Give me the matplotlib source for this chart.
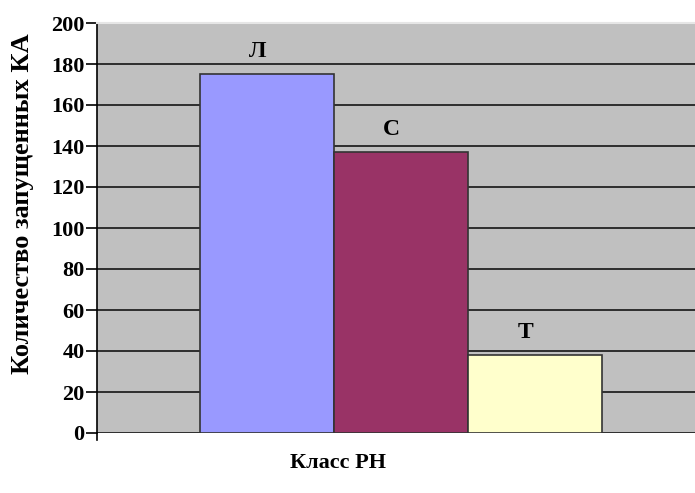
import matplotlib.pyplot as plt

classes = ['Л', 'С', 'Т']
launches = [175, 137, 38]
colors = ['#9999FF', '#993366', '#FFFFCC']
yticks = [0, 20, 40, 60, 80, 100, 120, 140, 160, 180, 200]

plt.rcParams['font.family'] = ['Liberation Serif', 'DejaVu Serif']
plt.rcParams['font.weight'] = 'bold'

fig = plt.figure(figsize=(6.95, 4.93), dpi=100)
ax = fig.add_axes([97 / 695, 60 / 493, 598 / 695, 410 / 493])
ax.set_facecolor('#C0C0C0')

x = range(len(classes))
ax.bar(x, launches, width=1.0, color=colors, edgecolor='#333333', linewidth=1.2, zorder=3)

# подписи над столбцами
for i, v in enumerate(launches):
    ax.text(i - 0.07, v + 6, classes[i], ha='center', va='bottom',
            fontsize=17, fontweight='bold', zorder=4)

ax.set_xlim(-1.269, 3.194)
ax.set_ylim(0, 200)
ax.set_yticks(yticks)
ax.set_xticks([])
ax.yaxis.grid(True, color='#222222', linewidth=1.3, zorder=0)
ax.set_axisbelow(True)
ax.tick_params(axis='y', direction='out', length=8, width=1.2, pad=1, labelsize=16)

for s in ['right', 'bottom']:
    ax.spines[s].set_visible(False)
ax.spines['top'].set_color('#e6e6e6')
ax.spines['top'].set_linewidth(1.5)
ax.spines['left'].set_linewidth(1.2)
ax.plot([0, 0], [-0.018, 0], transform=ax.transAxes, color='black', lw=1.2, clip_on=False)

fig.text(23 / 695, 1 - 204 / 493, 'Количество запущенных КА', rotation=90,
         ha='center', va='center', fontsize=19, fontweight='bold')
fig.text(338 / 695, 1 - 463 / 493, 'Класс РН', ha='center', va='center',
         fontsize=16, fontweight='bold')

fig.savefig('out.png', dpi=100)
